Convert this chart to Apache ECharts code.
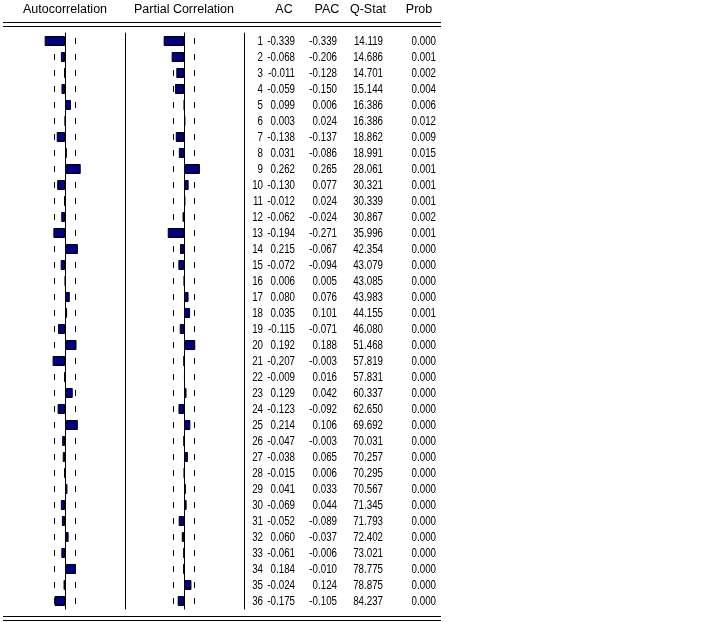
<!DOCTYPE html>
<html><head><meta charset="utf-8">
<script src="https://cdn.jsdelivr.net/npm/echarts@6/dist/echarts.min.js"></script>
<style>html,body{margin:0;padding:0;background:#fff}#c{width:719px;height:622px}</style>
</head><body><div id="c"></div>
<script>
const lags = [1,2,3,4,5,6,7,8,9,10,11,12,13,14,15,16,17,18,19,20,21,22,23,24,25,26,27,28,29,30,31,32,33,34,35,36];
const ac = [-0.339,-0.068,-0.011,-0.059,0.099,0.003,-0.138,0.031,0.262,-0.130,-0.012,-0.062,-0.194,0.215,-0.072,0.006,0.080,0.035,-0.115,0.192,-0.207,-0.009,0.129,-0.123,0.214,-0.047,-0.038,-0.015,0.041,-0.069,-0.052,0.060,-0.061,0.184,-0.024,-0.175];
const pac = [-0.339,-0.206,-0.128,-0.150,0.006,0.024,-0.137,-0.086,0.265,0.077,0.024,-0.024,-0.271,-0.067,-0.094,0.005,0.076,0.101,-0.071,0.188,-0.003,0.016,0.042,-0.092,0.106,-0.003,0.065,0.006,0.033,0.044,-0.089,-0.037,-0.006,-0.010,0.124,-0.105];
const qstat = [14.119,14.686,14.701,15.144,16.386,16.386,18.862,18.991,28.061,30.321,30.339,30.867,35.996,42.354,43.079,43.085,43.983,44.155,46.080,51.468,57.819,57.831,60.337,62.650,69.692,70.031,70.257,70.295,70.567,71.345,71.793,72.402,73.021,78.775,78.875,84.237];
const prob = [0.000,0.001,0.002,0.004,0.006,0.012,0.009,0.015,0.001,0.001,0.001,0.002,0.001,0.000,0.000,0.000,0.000,0.001,0.000,0.000,0.000,0.000,0.000,0.000,0.000,0.000,0.000,0.000,0.000,0.000,0.000,0.000,0.000,0.000,0.000,0.000];
const band = 0.183;
const headers = ['Autocorrelation','Partial Correlation','AC','PAC','Q-Stat','Prob'];

const FONT = '"Liberation Sans", Arial, sans-serif';
const HFS = 12.5, DFS = 12.5, DSCALE = 0.78;
const TOP = 33, H = 576;
const colRight = [19, 51, 93, 139, 192];
const headerX = [65, 184, 284, 327, 368, 419];

const chart = echarts.init(document.getElementById('c'), null, {renderer:'canvas'});

function yCat(gi, pos, showLine, onZero){
  return {type:'category', gridIndex:gi, data:lags, inverse:true, position:pos,
    axisLine:{show:showLine, onZero:onZero, lineStyle:{color:'#000', width:1}},
    axisTick:{show:false}, axisLabel:{show:false}, splitLine:{show:false}};
}
function xVal(gi, min, max){
  return {type:'value', gridIndex:gi, min:min, max:max, show:false, splitLine:{show:false}};
}
function dashSeries(gi){
  const d = [];
  lags.forEach((l,i) => { d.push([band, i]); d.push([-band, i]); });
  return {type:'custom', xAxisIndex:gi, yAxisIndex:gi*2, data:d, silent:true,
    renderItem:(params, api) => {
      const p = api.coord([api.value(0), api.value(1)]);
      return {type:'rect', shape:{x:Math.floor(p[0]), y:Math.round(p[1])-3, width:1, height:6}, style:{fill:'#000'}};
    }};
}
function barSeries(gi, vals){
  return {type:'bar', xAxisIndex:gi, yAxisIndex:gi*2, data:vals, barWidth:10, silent:true,
    itemStyle:{color:'#000080', borderColor:'#000', borderWidth:1}};
}
function textSeries(ci, vals, fmt){
  return {type:'custom', xAxisIndex:2, yAxisIndex:4, silent:true,
    data: lags.map((l,i) => [colRight[ci], i, vals[i]]),
    renderItem:(params, api) => {
      const p = api.coord([api.value(0), api.value(1)]);
      return {type:'text', x:p[0], y:p[1]+0.5, scaleX:DSCALE,
        style:{text: fmt(api.value(2)), fill:'#000', font: DFS+'px '+FONT, textAlign:'right', textVerticalAlign:'middle'}};
    }};
}

const graphics = [];
headers.forEach((h,i) => graphics.push({type:'text', x:headerX[i], y:10,
  style:{text:h, fill:'#000', font: HFS+'px '+FONT, textAlign:'center', textVerticalAlign:'middle'}}));
[22.5, 26.5, 616.5, 620.5].forEach(y => graphics.push({type:'line', shape:{x1:3, y1:y, x2:441, y2:y}, style:{stroke:'#000', lineWidth:1}}));

chart.setOption({
  animation:false,
  backgroundColor:'#fff',
  grid:[
    {left:5, top:TOP, width:120, height:H},
    {left:124, top:TOP, width:120, height:H},
    {left:244, top:TOP, width:200, height:H}
  ],
  xAxis:[xVal(0,-1,1), xVal(1,-1,1), xVal(2,0,200)],
  yAxis:[yCat(0,'left',true,true), yCat(0,'right',true,false),
         yCat(1,'left',true,true), yCat(1,'right',true,false),
         yCat(2,'left',false,false), yCat(2,'right',false,false)],
  series:[
    barSeries(0, ac), barSeries(1, pac), dashSeries(0), dashSeries(1),
    textSeries(0, lags, v => String(v)),
    textSeries(1, ac, v => v.toFixed(3)),
    textSeries(2, pac, v => v.toFixed(3)),
    textSeries(3, qstat, v => v.toFixed(3)),
    textSeries(4, prob, v => v.toFixed(3))
  ],
  graphic: graphics
});
</script></body></html>
